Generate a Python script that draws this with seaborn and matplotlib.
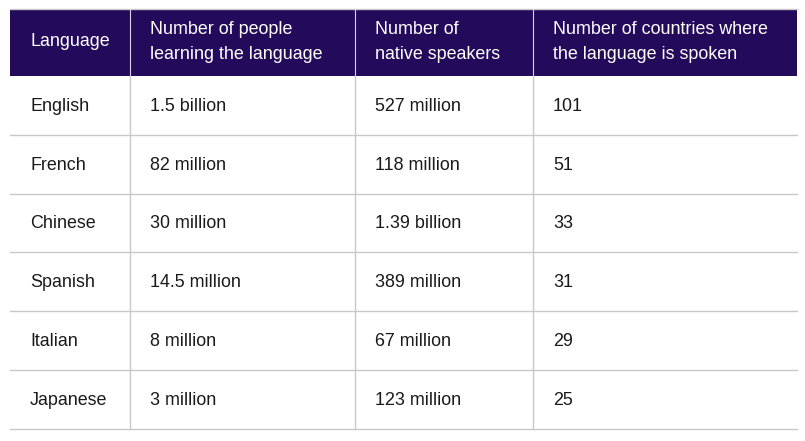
import matplotlib
matplotlib.use("Agg")
import matplotlib.pyplot as plt
import seaborn as sns
import pandas as pd

headers = ["Language",
           "Number of people\nlearning the language",
           "Number of\nnative speakers",
           "Number of countries where\nthe language is spoken"]
languages = ["English", "French", "Chinese", "Spanish", "Italian", "Japanese"]
learners = ["1.5 billion", "82 million", "30 million", "14.5 million", "8 million", "3 million"]
native = ["527 million", "118 million", "1.39 billion", "389 million", "67 million", "123 million"]
countries = ["101", "51", "33", "31", "29", "25"]

df = pd.DataFrame({headers[0]: languages, headers[1]: learners,
                   headers[2]: native, headers[3]: countries})

sns.set_theme(style="white")
plt.rcParams['font.family'] = ['Liberation Sans', 'DejaVu Sans']

W, H = 805, 441
fig = plt.figure(figsize=(W / 100, H / 100), dpi=100)
ax = fig.add_axes([0, 0, 1, 1])
ax.set_xlim(0, W)
ax.set_ylim(H, 0)
ax.axis("off")

left, right = 10, 797
col_edges = [left, 130, 355, 533, right]
head_top, head_bot = 9, 76
row_h = 58.8
header_color = "#240a5a"
line_color = "#c8c8c8"

# header background
ax.add_patch(plt.Rectangle((left, head_top), right - left, head_bot - head_top,
                           facecolor=header_color, edgecolor="none", zorder=1))
ax.plot([left, right], [head_top - 0.5, head_top - 0.5], color=line_color, lw=1, zorder=2)
for x in col_edges[1:-1]:
    ax.plot([x, x], [head_top, head_bot], color="#d8d4e4", lw=0.8, zorder=2)

n_rows = len(df)
bottom = head_bot + n_rows * row_h
for x in col_edges[1:-1]:
    ax.plot([x, x], [head_bot, bottom], color=line_color, lw=1, zorder=2)
for i in range(n_rows):
    y = head_bot + (i + 1) * row_h
    ax.plot([left, right], [y, y], color=line_color, lw=1, zorder=2)

pad = 20
fs = 12.9
for j, h in enumerate(df.columns):
    ax.text(col_edges[j] + pad, (head_top + head_bot) / 2 - 0.5, h, color="white",
            fontsize=fs, va="center", ha="left", linespacing=1.68, zorder=3)

for i, row in enumerate(df.itertuples(index=False)):
    yc = head_bot + (i + 0.5) * row_h + 1
    for j, val in enumerate(row):
        ax.text(col_edges[j] + pad, yc, val, color="#1a1a1a", fontsize=fs,
                va="center", ha="left", zorder=3)

fig.savefig("out.png", dpi=100, facecolor="white")
